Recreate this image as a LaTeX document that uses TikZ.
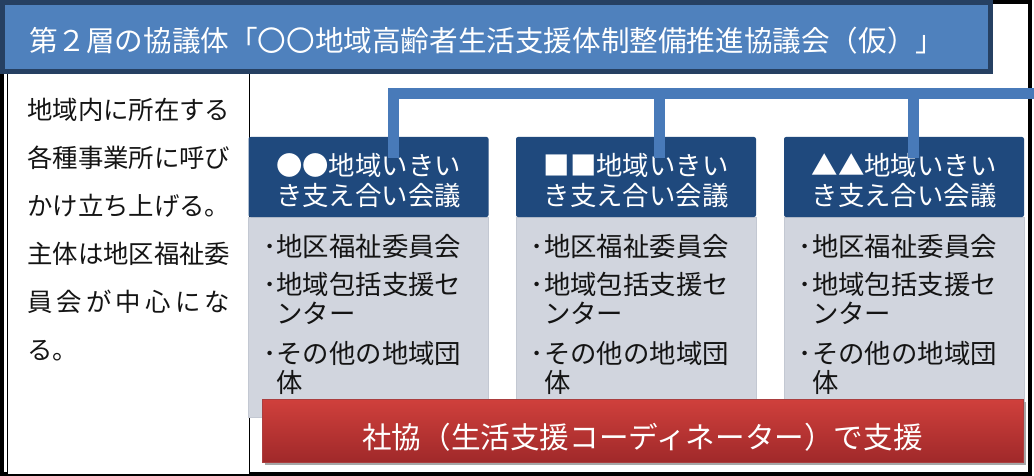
\documentclass[tikz,border=0pt]{standalone}
\usepackage{fontspec}
\setmainfont{Noto Sans CJK JP}
\usetikzlibrary{shadows}
\definecolor{titlefill}{RGB}{79,129,189}
\definecolor{titleline}{RGB}{38,64,98}
\definecolor{hdrfill}{RGB}{31,73,125}
\definecolor{bodyfill}{RGB}{209,213,222}
\definecolor{bodyline}{RGB}{195,200,210}
\definecolor{busblue}{RGB}{72,122,185}
\definecolor{redtop}{RGB}{208,64,60}
\definecolor{redbot}{RGB}{160,41,42}
\definecolor{inktext}{RGB}{20,20,20}
\tikzset{
 frame/.style={draw=black, line width=4pt},
 leftbox/.style={draw=black, line width=1.5pt, fill=white, minimum width=242pt, minimum height=402pt, anchor=north west, inner sep=0pt},
 titlebox/.style={draw=titleline, line width=5pt, fill=titlefill, minimum width=988pt, minimum height=69pt, inner sep=0pt},
 titletext/.style={text=white, font=\fontsize{28.6pt}{30pt}\selectfont, inner sep=0pt, anchor=base west},
 lefttext/.style={text=inktext, font=\fontsize{25.4pt}{48pt}\selectfont, align=left, inner sep=0pt, anchor=north west},
 hdrbox/.style={fill=hdrfill, rounded corners=2pt, minimum width=240pt, minimum height=80pt, inner sep=0pt},
 hdrtext/.style={text=white, font=\fontsize{26.4pt}{30pt}\selectfont, align=center, inner sep=0pt, anchor=north},
 bodybox/.style={fill=bodyfill, draw=bodyline, line width=0.8pt, minimum width=240pt, minimum height=200pt, inner sep=0pt},
 bodytext/.style={text=inktext, font=\fontsize{26.4pt}{29pt}\selectfont, align=left, inner sep=0pt, anchor=north west},
 bus/.style={draw=busblue, line width=11pt, line join=miter},
 redbar/.style={top color=redtop, bottom color=redbot, draw=redbot!90!white, minimum width=761pt, minimum height=63pt, inner sep=0pt, text=white, font=\fontsize{29.6pt}{32pt}\selectfont, text height=36pt, text depth=1pt, drop shadow={shadow xshift=3pt, shadow yshift=-3pt, fill=black!35, opacity=1}}
}
\begin{document}
\begin{tikzpicture}[x=1pt,y=-1pt]
\useasboundingbox (0,0) rectangle (1034,476);
\fill[white] (0,0) rectangle (1034,476);
\draw[frame] (2,2) rectangle (1030,474);
% left box
\node[leftbox] (leftbox) at (6.5,72) {};
\node[lefttext] (lefttxt) at (27,98) {地域内に所在する\\各種事業所に呼び\\かけ立ち上げる。\\主体は地区福祉委\\\hbox to 203pt{員\hfil 会\hfil が\hfil 中\hfil 心\hfil に\hfil な}\\る。};
% title
\node[titlebox] (title) at (496.5,37) {};
\node[titletext] (titletxt) at (29,52) {第２層の協議体「〇〇地域高齢者生活支援体制整備推進協議会（仮）」};
% boxes
\foreach \i/\cx/\hd in {1/368.5/{●●地域いきい\\き支え合い会議}, 2/636/{■■地域いきい\\き支え合い会議}, 3/904/{▲▲地域いきい\\き支え合い会議}} {
  \node[bodybox] (body\i) at (\cx,317) {};
  \node[hdrbox] (hdr\i) at (\cx,177) {};
  \node[hdrtext] (hdrtxt\i) at (\cx,153.5) {\hd};
  \node[bodytext] (bodytxt\i) at ([xshift=15pt]body\i.west |- 0,234) {･地区福祉委員会\\[9pt]･地域包括支援セ\\\hspace*{13.2pt}ンター\\[11pt]･その他の地域団\\\hspace*{13.2pt}体};
}
% connectors
\coordinate (busend) at (1034,93.5);
\coordinate (d1) at (393.5,158);
\coordinate (d2) at (659,158);
\coordinate (d3) at (913,158);
\draw[bus] (d1) |- (busend);
\draw[bus] (d2) -- (d2 |- busend);
\draw[bus] (d3) -- (d3 |- busend);
% red bar
\node[redbar] (shakyo) at (642.5,430.5) {社協（生活支援コーディネーター）で支援};
\end{tikzpicture}
\end{document}
